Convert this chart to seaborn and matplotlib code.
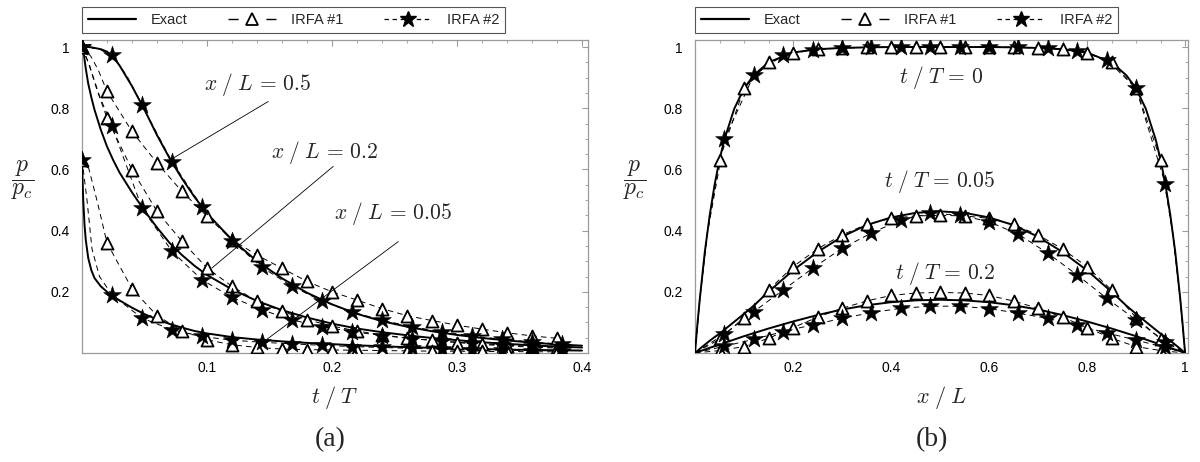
import numpy as np
import pandas as pd
import matplotlib
matplotlib.use("Agg")
import matplotlib.pyplot as plt
import seaborn as sns
from matplotlib.lines import Line2D
from matplotlib.ticker import MultipleLocator, FixedLocator

sns.set_style("white")
plt.rcParams["font.family"] = ["Liberation Sans", "DejaVu Sans"]
plt.rcParams["mathtext.fontset"] = "cm"
plt.rcParams["lines.scale_dashes"] = False

# ---------------- panel (a): p/pc versus t/T ----------------
t_exact = [0, 0.0005, 0.001, 0.002, 0.003, 0.005, 0.0075, 0.01, 0.015, 0.02, 0.025,
           0.03, 0.04, 0.05, 0.06, 0.07, 0.08, 0.09, 0.10, 0.12, 0.14, 0.16, 0.18,
           0.20, 0.22, 0.24, 0.26, 0.28, 0.30, 0.32, 0.34, 0.36, 0.38, 0.40]
exact_x050 = [1.0, 1.0, 1.0, 1.0, 1.0, 1.0, 0.999, 0.997, 0.993, 0.985, 0.967,
              0.94, 0.872, 0.795, 0.712, 0.637, 0.57, 0.51, 0.456, 0.37, 0.30, 0.244, 0.197,
              0.159, 0.128, 0.104, 0.086, 0.071, 0.059, 0.049, 0.041, 0.034, 0.028, 0.024]
exact_x020 = [1.0, 0.999, 0.995, 0.96, 0.93, 0.88, 0.835, 0.795, 0.73, 0.675, 0.63,
              0.59, 0.525, 0.465, 0.41, 0.36, 0.32, 0.285, 0.255, 0.208, 0.17, 0.14, 0.116,
              0.096, 0.08, 0.068, 0.058, 0.049, 0.042, 0.035, 0.03, 0.025, 0.021, 0.018]
exact_x005 = [0.632, 0.56, 0.50, 0.42, 0.37, 0.31, 0.27, 0.245, 0.218, 0.20, 0.185,
              0.172, 0.148, 0.127, 0.11, 0.095, 0.083, 0.072, 0.064, 0.052, 0.044, 0.038, 0.033,
              0.029, 0.025, 0.022, 0.019, 0.017, 0.015, 0.013, 0.011, 0.010, 0.009, 0.008]

t_irfa1 = [0, 0.02, 0.04, 0.06, 0.08, 0.10, 0.12, 0.14, 0.16, 0.18, 0.20,
           0.22, 0.24, 0.26, 0.28, 0.30, 0.32, 0.34, 0.36, 0.38]
irfa1_x050 = [1.0, 0.855, 0.724, 0.621, 0.528, 0.447, 0.37, 0.32, 0.277, 0.234, 0.20,
              0.173, 0.145, 0.122, 0.106, 0.091, 0.078, 0.066, 0.056, 0.048]
irfa1_x020 = [1.0, 0.768, 0.599, 0.463, 0.365, 0.278, 0.218, 0.169, 0.136, 0.109, 0.088,
              0.072, 0.059, 0.049, 0.041, 0.034, 0.028, 0.023, 0.019, 0.016]
irfa1_x005 = [0.632, 0.36, 0.21, 0.122, 0.073, 0.043, 0.027, 0.018, 0.013, 0.011, 0.010,
              0.009, 0.008, 0.007, 0.006, 0.006, 0.005, 0.005, 0.004, 0.004]

t_irfa2 = [0, 0.024, 0.048, 0.072, 0.096, 0.12, 0.144, 0.168, 0.192, 0.216, 0.24,
           0.264, 0.288, 0.312, 0.336, 0.36, 0.384]
irfa2_x050 = [1.0, 0.975, 0.81, 0.625, 0.478, 0.366, 0.28, 0.218, 0.170, 0.134, 0.107,
              0.086, 0.069, 0.056, 0.045, 0.036, 0.029]
irfa2_x020 = [1.0, 0.741, 0.474, 0.332, 0.239, 0.182, 0.141, 0.108, 0.086, 0.070, 0.057,
              0.047, 0.039, 0.032, 0.026, 0.022, 0.018]
irfa2_x005 = [0.632, 0.19, 0.114, 0.076, 0.054, 0.042, 0.035, 0.030, 0.025, 0.021, 0.018,
              0.015, 0.013, 0.011, 0.009, 0.008, 0.007]

# extra points of the dashed curves between markers near t = 0
lead1_t = {"050": [0.007, 0.013], "020": [0.005, 0.012], "005": [0.005, 0.0125]}
lead1_p = {"050": [0.97, 0.925], "020": [0.95, 0.86], "005": [0.61, 0.49]}
lead2_t = {"050": [0.012, 0.036], "020": [0.006, 0.014], "005": [0.004, 0.008, 0.014]}
lead2_p = {"050": [0.995, 0.905], "020": [0.94, 0.84], "005": [0.50, 0.34, 0.25]}

labels_a = ["$x\\;/\\;L\\,=\\,0.5$", "$x\\;/\\;L\\,=\\,0.2$", "$x\\;/\\;L\\,=\\,0.05$"]

# ---------------- panel (b): p/pc versus x/L ----------------
x_exact = [0, 0.005, 0.01, 0.02, 0.03, 0.04, 0.05, 0.06, 0.08, 0.10, 0.12, 0.15, 0.20,
           0.25, 0.30, 0.35, 0.40, 0.45, 0.50, 0.55, 0.60, 0.65, 0.70, 0.75, 0.80, 0.85,
           0.88, 0.90, 0.92, 0.94, 0.95, 0.96, 0.97, 0.98, 0.99, 0.995, 1.0]
exact_t0 = [0, 0.095, 0.18, 0.33, 0.45, 0.55, 0.632, 0.698, 0.798, 0.865, 0.908, 0.95, 0.982,
            0.993, 0.997, 0.999, 1.0, 1.0, 1.0, 1.0, 1.0, 0.999, 0.997, 0.993, 0.982, 0.95,
            0.908, 0.865, 0.798, 0.698, 0.632, 0.55, 0.45, 0.33, 0.18, 0.095, 0]
exact_t005 = [0, 0.007, 0.014, 0.027, 0.04, 0.052, 0.063, 0.076, 0.102, 0.128, 0.155, 0.20, 0.27,
              0.33, 0.38, 0.418, 0.443, 0.458, 0.463, 0.458, 0.443, 0.418, 0.38, 0.33, 0.27, 0.20,
              0.155, 0.128, 0.102, 0.076, 0.063, 0.052, 0.04, 0.027, 0.014, 0.007, 0]
exact_t02 = [0, 0.003, 0.006, 0.011, 0.017, 0.022, 0.028, 0.033, 0.044, 0.055, 0.065, 0.08, 0.103,
             0.124, 0.142, 0.156, 0.166, 0.172, 0.174, 0.172, 0.166, 0.156, 0.142, 0.124, 0.103, 0.08,
             0.065, 0.055, 0.044, 0.033, 0.028, 0.022, 0.017, 0.011, 0.006, 0.003, 0]

x_irfa1 = [0.05, 0.10, 0.15, 0.20, 0.25, 0.30, 0.35, 0.40, 0.45, 0.50,
           0.55, 0.60, 0.65, 0.70, 0.75, 0.80, 0.85, 0.90, 0.95]
q1_t0 = [0.632, 0.865, 0.95, 0.982, 0.993, 0.997, 0.999, 1.0, 1.0, 1.0,
         1.0, 1.0, 0.999, 0.997, 0.993, 0.982, 0.95, 0.865, 0.632]
q1_t005 = [0.045, 0.116, 0.206, 0.282, 0.34, 0.386, 0.42, 0.44, 0.448, 0.45,
           0.448, 0.44, 0.42, 0.386, 0.34, 0.282, 0.206, 0.116, 0.045]
q1_t02 = [0.008, 0.021, 0.048, 0.083, 0.117, 0.146, 0.17, 0.188, 0.196, 0.198,
          0.196, 0.188, 0.17, 0.146, 0.117, 0.083, 0.048, 0.021, 0.008]

x_irfa2 = [0.06, 0.12, 0.18, 0.24, 0.30, 0.36, 0.42, 0.48, 0.54, 0.60,
           0.66, 0.72, 0.78, 0.84, 0.90, 0.96]
q2_t0 = [0.698, 0.908, 0.973, 0.991, 0.997, 0.999, 1.0, 1.0, 1.0, 1.0,
         0.999, 0.996, 0.988, 0.959, 0.865, 0.551]
q2_t005 = [0.062, 0.135, 0.206, 0.277, 0.342, 0.392, 0.435, 0.456, 0.451, 0.429,
           0.388, 0.326, 0.255, 0.179, 0.108, 0.037]
q2_t02 = [0.022, 0.045, 0.07, 0.092, 0.113, 0.132, 0.146, 0.153, 0.153, 0.145,
          0.13, 0.113, 0.09, 0.066, 0.042, 0.018]

edge_x = [0.0, 1.0]
edge_p = [0.0, 0.0]
lead_x_t0 = [0.01, 0.025, 0.975, 0.99]
lead_p_t0 = [0.18, 0.39, 0.39, 0.18]

labels_b = ["$t\\;/\\;T\\,=\\,0$", "$t\\;/\\;T\\,=\\,0.05$", "$t\\;/\\;T\\,=\\,0.2$"]

legend_labels = ["Exact", "IRFA #1", "IRFA #2"]

# ---------------- drawing helpers ----------------
FRAME = "#9a9a9a"
DASH = (0, (4.0, 3.0))


def solid(ax, x, y):
    sns.lineplot(x=x, y=y, ax=ax, color="black", lw=1.4, estimator=None,
                 sort=False, errorbar=None, zorder=3)


def dashed(ax, x, y):
    df = pd.DataFrame({"x": x, "y": y}).sort_values("x")
    sns.lineplot(data=df, x="x", y="y", ax=ax, color="black", lw=0.7,
                 linestyle=DASH, estimator=None, sort=False, errorbar=None, zorder=2)


def tri(ax, x, y):
    sns.scatterplot(x=x, y=y, ax=ax, marker="^", s=75, color="white",
                    edgecolor="black", linewidth=1.3, zorder=5)


def star(ax, x, y):
    sns.scatterplot(x=x, y=y, ax=ax, marker="*", s=180, color="black",
                    edgecolor="black", linewidth=0.4, zorder=6)


def style_axes(ax, xmajor, xlabels, xminor, xlim):
    ax.set_xlim(*xlim)
    ax.set_ylim(0, 1.023)
    ax.xaxis.set_major_locator(FixedLocator(xmajor))
    ax.set_xticklabels(xlabels)
    ax.xaxis.set_minor_locator(MultipleLocator(xminor))
    ax.yaxis.set_major_locator(FixedLocator([0.2, 0.4, 0.6, 0.8, 1.0]))
    ax.set_yticklabels(["0.2", "0.4", "0.6", "0.8", "1"])
    ax.yaxis.set_minor_locator(MultipleLocator(0.05))
    ax.tick_params(which="both", direction="in", top=True, right=True,
                   color=FRAME, labelsize=10, labelcolor="black")
    ax.tick_params(which="major", length=4.5, width=0.8)
    ax.tick_params(which="minor", length=2.5, width=0.6)
    ax.tick_params(axis="x", pad=6)
    ax.tick_params(axis="y", pad=9)
    for sp in ax.spines.values():
        sp.set_color(FRAME)
        sp.set_linewidth(0.9)
    ax.set_xlabel("")
    ax.set_ylabel("")


def add_legend(ax):
    handles = [
        Line2D([], [], color="black", lw=1.6),
        Line2D([], [], color="black", lw=1.0, linestyle=(0, (7.3, 20.0)),
               marker="^", ms=8, mfc="white", mec="black", mew=1.3),
        Line2D([], [], color="black", lw=0.9, linestyle=(0, (3.2, 2.6)),
               marker="*", ms=12, mfc="black", mec="black"),
    ]
    leg = ax.legend(handles, legend_labels, loc="lower left", bbox_to_anchor=(0, 1.0224),
                    ncol=3, frameon=True, fancybox=False, edgecolor="#555555",
                    borderaxespad=0, handlelength=3.3, handletextpad=1.0,
                    columnspacing=2.8, fontsize=10.5, borderpad=0.4, numpoints=1,
                    framealpha=1)
    leg.get_frame().set_linewidth(0.8)


fig = plt.figure(figsize=(12, 4.62), dpi=100)
axa = fig.add_axes([82 / 1200, 109 / 462, 506 / 1200, 313 / 462])
axb = fig.add_axes([695 / 1200, 109 / 462, 493 / 1200, 313 / 462])

# ---- panel (a)
series_a = [
    (exact_x050, irfa1_x050, irfa2_x050, "050"),
    (exact_x020, irfa1_x020, irfa2_x020, "020"),
    (exact_x005, irfa1_x005, irfa2_x005, "005"),
]
for ex, i1, i2, key in series_a:
    dashed(axa, t_irfa1 + lead1_t[key], i1 + lead1_p[key])
    dashed(axa, t_irfa2 + lead2_t[key], i2 + lead2_p[key])
    solid(axa, t_exact, ex)
    tri(axa, t_irfa1, i1)
    star(axa, t_irfa2, i2)

style_axes(axa, [0.1, 0.2, 0.3, 0.4], ["0.1", "0.2", "0.3", "0.4"], 0.02, (0, 0.4048))

txt_a_pos = [(0.1408, 0.876), (0.1944, 0.654), (0.2488, 0.4575)]
ptr_a = [((0.149, 0.073), (0.822, 0.637)), ((0.201, 0.104), (0.61, 0.278)),
         ((0.253, 0.147), (0.364, 0.042))]
for lab, (tx, ty), (px, py) in zip(labels_a, txt_a_pos, ptr_a):
    axa.text(tx, ty, lab, fontsize=15.5, ha="center", va="center", zorder=7)
    axa.plot(px, py, color="black", lw=0.6, zorder=7)

axa.text(0.5, -0.141, "$t\\;/\\;T$", transform=axa.transAxes, fontsize=16,
         ha="center", va="center")
axa.text(-0.117, 0.553, "$\\dfrac{p}{p_c}$", transform=axa.transAxes, fontsize=17,
         ha="center", va="center")
axa.text(0.49, -0.278, "(a)", transform=axa.transAxes, fontsize=20,
         ha="center", va="center", family=["Liberation Serif", "DejaVu Serif"])
add_legend(axa)

# ---- panel (b)
series_b = [
    (exact_t0, q1_t0, q2_t0, True),
    (exact_t005, q1_t005, q2_t005, False),
    (exact_t02, q1_t02, q2_t02, False),
]
for ex, q1, q2, steep in series_b:
    lx = edge_x + (lead_x_t0 if steep else [])
    lp = edge_p + (lead_p_t0 if steep else [])
    dashed(axb, x_irfa1 + lx, q1 + lp)
    dashed(axb, x_irfa2 + lx, q2 + lp)
    solid(axb, x_exact, ex)
    tri(axb, x_irfa1, q1)
    star(axb, x_irfa2, q2)

style_axes(axb, [0.2, 0.4, 0.6, 0.8, 1.0], ["0.2", "0.4", "0.6", "0.8", "1"], 0.05, (0, 1.006))

txt_b_pos = [(0.502, 0.899), (0.50, 0.559), (0.51, 0.261)]
for lab, (tx, ty) in zip(labels_b, txt_b_pos):
    axb.text(tx, ty, lab, fontsize=15.5, ha="center", va="center", zorder=7)

axb.text(0.5, -0.141, "$x\\;/\\;L$", transform=axb.transAxes, fontsize=16,
         ha="center", va="center")
axb.text(-0.122, 0.553, "$\\dfrac{p}{p_c}$", transform=axb.transAxes, fontsize=17,
         ha="center", va="center")
axb.text(0.48, -0.278, "(b)", transform=axb.transAxes, fontsize=20,
         ha="center", va="center", family=["Liberation Serif", "DejaVu Serif"])
add_legend(axb)

fig.savefig("out.png", dpi=100)
